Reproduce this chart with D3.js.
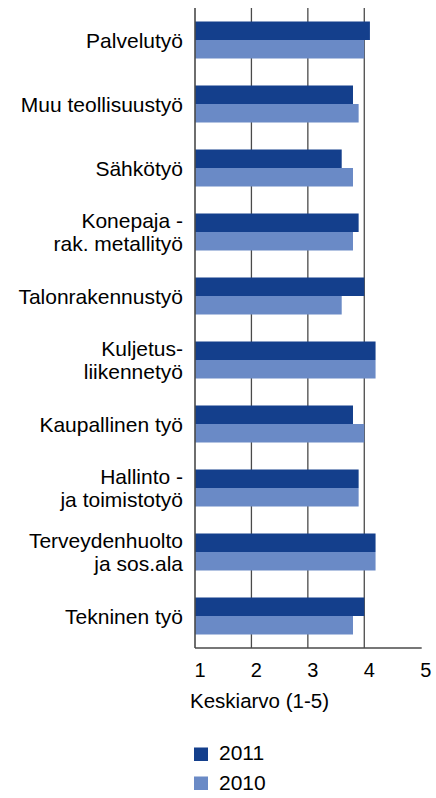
<!DOCTYPE html>
<html>
<head>
<meta charset="utf-8">
<script src="https://cdn.jsdelivr.net/npm/d3@7"></script>
<style>
  body { margin: 0; background: #fff; }
  svg text { font-family: "Liberation Sans", Arial, sans-serif; fill: #000; }
</style>
</head>
<body>
<svg id="chart" width="436" height="798"></svg>
<script>
let categories = [
  ["Palvelutyö"],
  ["Muu teollisuustyö"],
  ["Sähkötyö"],
  ["Konepaja -", "rak. metallityö"],
  ["Talonrakennustyö"],
  ["Kuljetus-", "liikennetyö"],
  ["Kaupallinen työ"],
  ["Hallinto -", "ja toimistotyö"],
  ["Terveydenhuolto", "ja sos.ala"],
  ["Tekninen työ"]
];
let values2011 = [4.1, 3.8, 3.6, 3.9, 4.0, 4.2, 3.8, 3.9, 4.2, 4.0];
let values2010 = [4.0, 3.9, 3.8, 3.8, 3.6, 4.2, 4.0, 3.9, 4.2, 3.8];
let seriesNames = ["2011", "2010"];
let colors = ["#143f8c", "#6a8ac6"];
let tickValues = [1, 2, 3, 4, 5];
let axisTitle = "Keskiarvo (1-5)";

let svg = d3.select("#chart");
let plotLeft = 195, plotRight = 420.7, plotTop = 8, plotBottom = 648;

let x = d3.scaleLinear().domain([1, 5]).range([plotLeft, plotRight]);
let y = d3.scaleBand().domain(d3.range(categories.length)).range([plotTop, plotBottom]);
let barH = 18.5;

// gridlines
svg.selectAll(".grid")
   .data(tickValues.slice(1, 4))
   .enter()
   .append("line")
   .attr("x1", d => x(d)).attr("x2", d => x(d))
   .attr("y1", plotTop).attr("y2", plotBottom)
   .attr("stroke", "#4a4a4a")
   .attr("stroke-width", 1.3)

// bars
let series = [values2011, values2010];
series.forEach((vals, s) => {
  svg.append("g")
     .selectAll("rect")
     .data(vals)
     .enter()
     .append("rect")
     .attr("x", x(1))
     .attr("y", (d, i) => y(i) + y.bandwidth() / 2 - barH + s * barH)
     .attr("width", d => x(d) - x(1))
     .attr("height", barH)
     .attr("fill", colors[s])
})

// axis lines
svg.append("line")
   .attr("x1", plotLeft).attr("x2", plotLeft)
   .attr("y1", plotTop).attr("y2", plotBottom)
   .attr("stroke", "#4a4a4a").attr("stroke-width", 1.6)
svg.append("line")
   .attr("x1", plotLeft).attr("x2", plotRight + 1)
   .attr("y1", plotBottom).attr("y2", plotBottom)
   .attr("stroke", "#4a4a4a").attr("stroke-width", 1.3)

// x tick labels
svg.selectAll(".tick")
   .data(tickValues)
   .enter()
   .append("text")
   .attr("x", d => x(d) + 5)
   .attr("y", 677)
   .attr("text-anchor", "middle")
   .attr("font-size", "20px")
   .text(d => d)

svg.append("text")
   .attr("x", 190)
   .attr("y", 708)
   .attr("font-size", "20.5px")
   .text(axisTitle)

// category labels
let lineH = 22.5;
categories.forEach((lines, i) => {
  let cy = y(i) + y.bandwidth() / 2;
  let t = svg.append("text")
             .attr("text-anchor", "end")
             .attr("font-size", "21px")
  lines.forEach((ln, j) => {
    t.append("tspan")
     .attr("x", 183)
     .attr("y", cy + (j - (lines.length - 1) / 2) * lineH + 7.5)
     .text(ln)
  })
})

// legend
let legend = svg.append("g")
seriesNames.forEach((name, i) => {
  legend.append("rect")
        .attr("x", 194).attr("y", 747.5 + i * 29)
        .attr("width", 14).attr("height", 13.5)
        .attr("fill", colors[i])
  legend.append("text")
        .attr("x", 219).attr("y", 760 + i * 30)
        .attr("font-size", "21px")
        .text(name)
})
</script>
</body>
</html>
